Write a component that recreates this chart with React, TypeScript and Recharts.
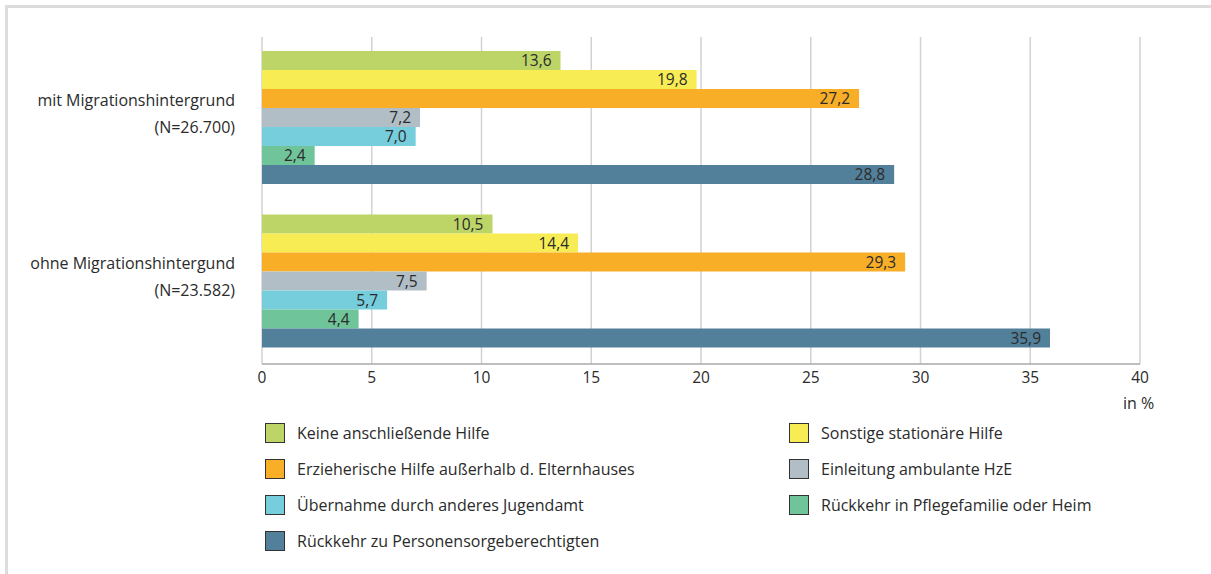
import React from 'react';
import {
  BarChart,
  Bar,
  XAxis,
  YAxis,
  CartesianGrid,
  LabelList,
  Legend,
} from 'recharts';

const GROUPS = ['mit Migrationshintergrund', 'ohne Migrationshintergund'];
const GROUP_N = ['(N=26.700)', '(N=23.582)'];

const SERIES = [
  'Keine anschließende Hilfe',
  'Sonstige stationäre Hilfe',
  'Erzieherische Hilfe außerhalb d. Elternhauses',
  'Einleitung ambulante HzE',
  'Übernahme durch anderes Jugendamt',
  'Rückkehr in Pflegefamilie oder Heim',
  'Rückkehr zu Personensorgeberechtigten',
];

const MIT_VALUES = [13.6, 19.8, 27.2, 7.2, 7.0, 2.4, 28.8];
const OHNE_VALUES = [10.5, 14.4, 29.3, 7.5, 5.7, 4.4, 35.9];

const X_TICKS = [0, 5, 10, 15, 20, 25, 30, 35, 40];

const COLORS = ['#bdd567', '#f7ec54', '#f8ae27', '#b1bec6', '#76cddc', '#70c499', '#527f99'];

const FONT = '"Open Sans", sans-serif';
const TEXT = '#2b2b2b';

const data = GROUPS.map((g, i) => {
  const row: Record<string, string | number> = { group: g, n: GROUP_N[i] };
  const vals = i === 0 ? MIT_VALUES : OHNE_VALUES;
  SERIES.forEach((s, j) => {
    row['s' + j] = vals[j];
  });
  return row;
});

const fmt = (v: any) => String(Number(v).toFixed(1)).replace('.', ',');

function GroupTick(props: any) {
  const { x, y, payload, index } = props;
  return (
    <g>
      <text x={x} y={y - 19} textAnchor="end" dominantBaseline="central" fill={TEXT} fontSize={16} fontFamily={FONT}>
        {payload.value}
      </text>
      <text x={x} y={y + 8} textAnchor="end" dominantBaseline="central" fill={TEXT} fontSize={16} fontFamily={FONT}>
        {GROUP_N[index]}
      </text>
    </g>
  );
}

function LegendBox() {
  return (
    <div
      style={{
        display: 'grid',
        gridTemplateColumns: '524px 400px',
        rowGap: 16,
        fontFamily: FONT,
        fontSize: 16,
        color: TEXT,
      }}
    >
      {SERIES.map((s, i) => (
        <div key={s} style={{ display: 'flex', alignItems: 'center', height: 20 }}>
          <div
            style={{
              width: 18,
              height: 18,
              border: '1px solid #333',
              backgroundColor: COLORS[i],
              marginRight: 12,
              flexShrink: 0,
            }}
          />
          <span>{s}</span>
        </div>
      ))}
    </div>
  );
}

export default function App() {
  return (
    <div style={{ position: 'fixed', left: 0, top: 0, width: 1211, height: 574, background: '#fff', overflow: 'hidden' }}>
      <BarChart
        width={1211}
        height={574}
        data={data}
        layout="vertical"
        margin={{ top: 37, right: 71, left: 0, bottom: 26 }}
        barCategoryGap={14}
        barGap={0}
      >
        <CartesianGrid horizontal={false} vertical stroke="#d2d2d2" strokeWidth={1.5} />
        <XAxis
          type="number"
          domain={[0, 40]}
          ticks={X_TICKS}
          interval={0}
          axisLine={{ stroke: '#a8a8a8', strokeWidth: 1.5 }}
          tickLine={false}
          tick={{ fill: TEXT, fontSize: 15.5, fontFamily: FONT }}
          tickMargin={2}
          height={56}
          label={(p: any) => {
            const vb = p.viewBox || {};
            return (
              <text
                x={vb.x + vb.width - 17}
                y={vb.y + 39}
                fill={TEXT}
                fontSize={16}
                fontFamily={FONT}
                dominantBaseline="central"
              >
                in %
              </text>
            );
          }}
        />
        <YAxis
          type="category"
          dataKey="group"
          width={262}
          axisLine={false}
          tickLine={false}
          tick={<GroupTick />}
          tickMargin={21}
        />
        <Legend
          verticalAlign="bottom"
          content={() => <LegendBox />}
          wrapperStyle={{ left: 265, top: 423, width: 940 }}
        />
        {SERIES.map((s, i) => (
          <Bar key={s} dataKey={'s' + i} name={s} fill={COLORS[i]} isAnimationActive={false}>
            <LabelList
              dataKey={'s' + i}
              position="insideRight"
              offset={9}
              formatter={fmt}
              fill={TEXT}
              fontSize={15.5}
              fontFamily={FONT}
            />
          </Bar>
        ))}
      </BarChart>
      <div
        style={{
          position: 'absolute',
          left: 5,
          top: 5,
          width: 1206,
          height: 569,
          borderTop: '3px solid #dcdcdc',
          borderLeft: '3px solid #dcdcdc',
          boxSizing: 'border-box',
          pointerEvents: 'none',
          zIndex: 5,
        }}
      />
    </div>
  );
}
